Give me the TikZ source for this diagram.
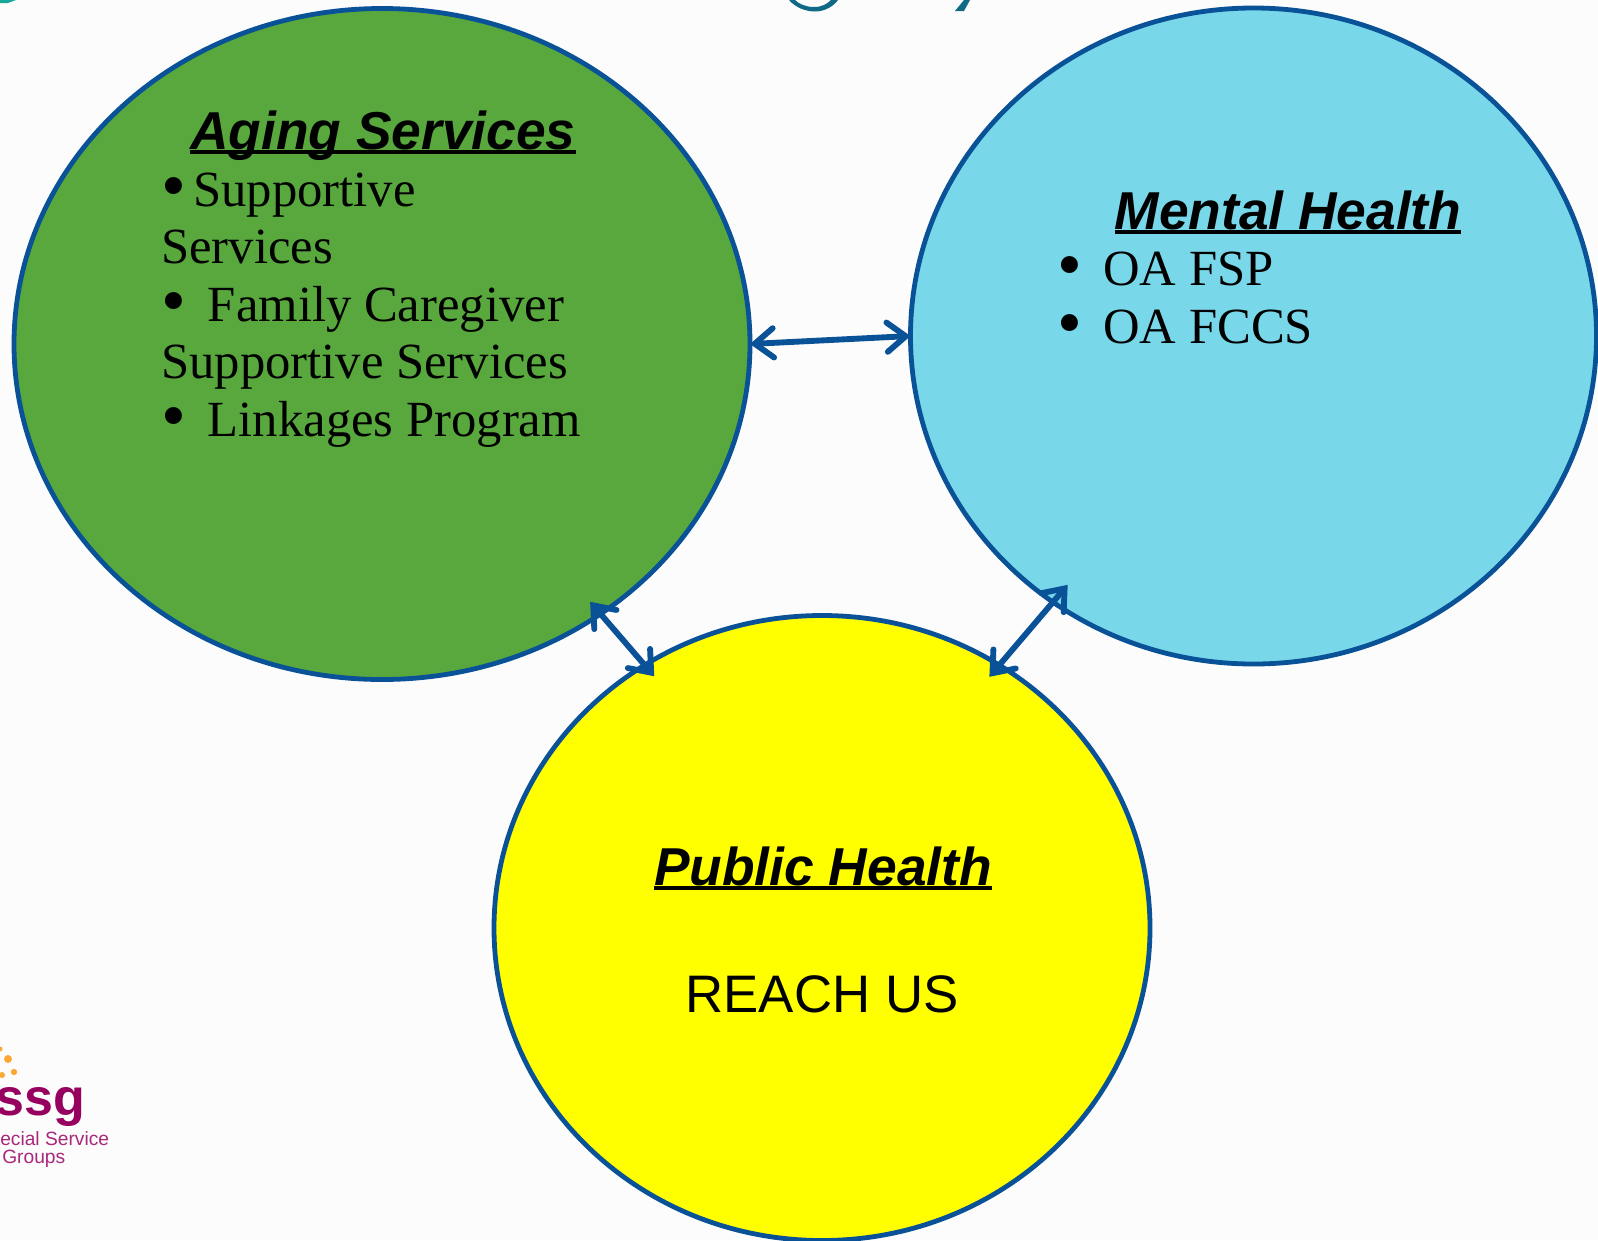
\documentclass[tikz,border=0pt]{standalone}
\usepackage{fontspec}
\setmainfont{Liberation Serif}
\newfontfamily\arialf{Liberation Sans}
\usetikzlibrary{shapes.geometric,arrows.meta}
\newcommand{\ulhead}[1]{\setbox0\hbox{#1}\rlap{\rule[-3.6pt]{\wd0}{2.8pt}}\box0}
\newcommand{\bigdot}{\raisebox{-2.5pt}{\scalebox{1.4}{•}}}
\definecolor{ringblue}{HTML}{0A5297}
\definecolor{gfill}{HTML}{58A83E}
\definecolor{bfill}{HTML}{78D8EA}
\definecolor{sunfill}{HTML}{FFFF00}
\definecolor{teal}{HTML}{0F6B85}
\definecolor{brightteal}{HTML}{18A89A}
\definecolor{ssgred}{HTML}{96005F}
\definecolor{ssgpink}{HTML}{A8287A}
\definecolor{ssgorange}{HTML}{FBA934}
\tikzset{
 x=0.75pt,y=-0.75pt,
 ring/.style={ellipse,draw=ringblue,line width=3.6pt,inner sep=0pt,outer sep=0pt},
 link/.style={draw=ringblue,line width=4.4pt,
   {Straight Barb[length=14pt,width=22pt,line cap=round,line join=miter]}-{Straight Barb[length=14pt,width=22pt,line cap=round,line join=miter]}},
 head/.style={font=\arialf\bfseries\itshape\fontsize{40pt}{44pt}\selectfont,anchor=base,inner sep=0pt},
 body/.style={font=\fontsize{38pt}{44pt}\selectfont,anchor=base west,inner sep=0pt},
 plain/.style={font=\arialf\fontsize{39.6pt}{44pt}\selectfont,anchor=base,inner sep=0pt},
 logo/.style={font=\arialf\fontsize{14.4pt}{16pt}\selectfont,text=ssgpink,anchor=base west,inner sep=0pt},
 dot/.style={fill=ssgorange,draw=none},
}
\begin{document}
\begin{tikzpicture}
\useasboundingbox (0,0) rectangle (1598,1240);
\fill[white!98.8!black] (0,0) rectangle (1598,1240);
% cut-off title fragments
\fill[brightteal] (0,3) -- (8,3) -- (16,0) -- (0,0) -- cycle;
\fill[teal] (789,0) .. controls (796,8) and (806,11.5) .. (815,11.5) .. controls (824,11.5) and (833,7) .. (838,0)
  -- (831,0) .. controls (827,4) and (822,7) .. (814,7) .. controls (806,7) and (799,4) .. (795,0) -- cycle;
\fill[teal] (955,11) -- (964,11) -- (970,0) -- (964,0) -- cycle;
% circles
\node[ring,fill=gfill,minimum width=736pt*0.75,minimum height=671pt*0.75] (green) at (382,344) {};
\node[ring,fill=bfill,minimum width=686pt*0.75,minimum height=656pt*0.75] (blue) at (1253.5,336) {};
\node[ring,fill=sunfill,minimum width=656pt*0.75,minimum height=625pt*0.75] (sun) at (822,928) {};
% connectors
\draw[link] (green.east) -- (blue.west);
\draw[link,shorten <=-12pt,shorten >=-11pt] (green.-51) -- (sun.124);
\draw[link,shorten <=-17pt,shorten >=-11.5pt] (blue.233.5) -- (sun.56);
% aging
\node[head] (agingT) at (383,149) {\ulhead{Aging Services}};
\node[body] (ag1) at (161,206) {\makebox[24pt][l]{\bigdot}Supportive};
\node[body] (ag2) at (161,263) {Services};
\node[body] (ag3) at (161,321) {\makebox[35pt][l]{\bigdot}Family Caregiver};
\node[body] (ag4) at (161,378) {Supportive Services};
\node[body] (ag5) at (161,436) {\makebox[35pt][l]{\bigdot}Linkages Program};
% mental
\node[head] (mentalT) at (1288,229) {\ulhead{Mental Health}};
\node[body] (mh1) at (1057,285) {\makebox[34.5pt][l]{\bigdot}OA FSP};
\node[body] (mh2) at (1057,343) {\makebox[34.5pt][l]{\bigdot}OA FCCS};
% public
\node[head] (publicT) at (823,885) {\ulhead{Public Health}};
\node[plain] (reach) at (822,1012) {REACH US};
% logo
\fill[dot] (8,1059) circle (4);
\fill[dot] (14,1072) circle (3.2);
\fill[dot] (2,1075) circle (3);
\fill[dot] (0,1049) circle (2.5);
\node[anchor=base west,inner sep=0pt,text=ssgred,font=\arialf\bfseries\fontsize{39pt}{42pt}\selectfont] (ssg) at (-5,1115) {ssg};
\node[logo] (sv1) at (0,1145) {ecial Service};
\node[logo] (sv2) at (2,1163) {Groups};
\end{tikzpicture}
\end{document}
